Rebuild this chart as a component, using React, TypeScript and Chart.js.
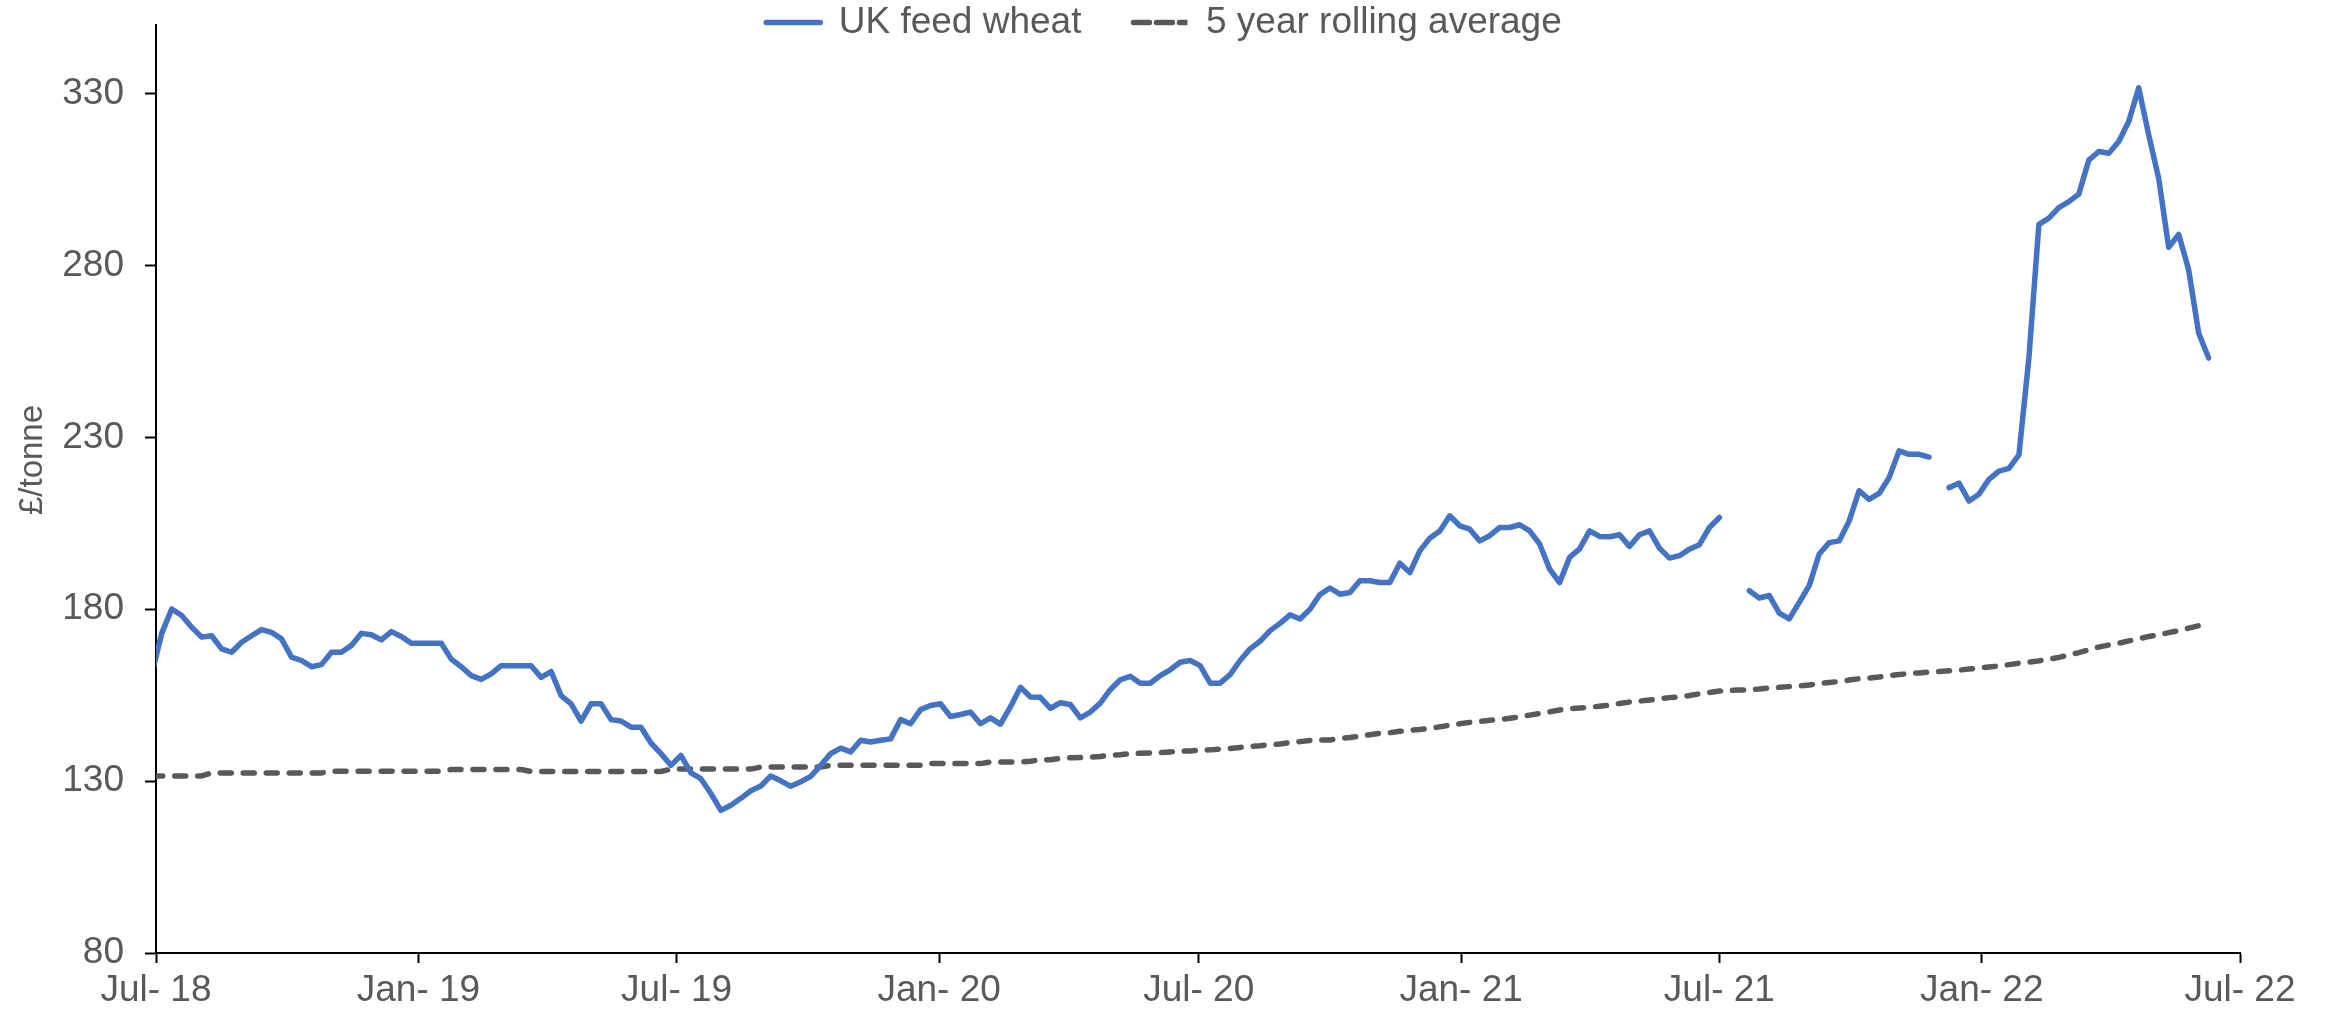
import React, { useEffect, useRef } from 'react';
import { Chart, registerables } from 'chart.js';

Chart.register(...registerables);

// ---- Data ----
const firstWeekDate = '2018-06-28';
const axisStartDate = '2018-07-01';
const axisEndDate = '2022-07-01';

const tickDates = [
  '2018-07-01', '2019-01-01', '2019-07-01', '2020-01-01', '2020-07-01',
  '2021-01-01', '2021-07-01', '2022-01-01', '2022-07-01',
];
const tickLabels = ['Jul- 18', 'Jan- 19', 'Jul- 19', 'Jan- 20', 'Jul- 20', 'Jan- 21', 'Jul- 21', 'Jan- 22', 'Jul- 22'];
const yTickValues = [80, 130, 180, 230, 280, 330];

const wheatLabel = 'UK feed wheat';
const avgLabel = '5 year rolling average';
const yTitle = '£/tonne';

// UK feed wheat, weekly (£/tonne)
const wheat: (number | null)[] = [
  161, 173, 180.1, 178.2, 174.8, 171.9, 172.3, 168.5, 167.5, 170.4,
  172.3, 174.1, 173.3, 171.4, 166.1, 165.1, 163.3, 163.9, 167.5, 167.5,
  169.5, 173.0, 172.6, 171.1, 173.5, 172.1, 170.1, 170.1, 170.1, 170.1,
  165.5, 163.3, 160.7, 159.6, 161.2, 163.6, 163.6, 163.6, 163.6, 160.2,
  161.9, 154.9, 152.5, 147.5, 152.5, 152.5, 147.9, 147.5, 145.7, 145.7,
  141.1, 138.0, 134.6, 137.5, 132.4, 130.7, 126.4, 121.5, 123.0, 125.0,
  127.2, 128.6, 131.5, 130.1, 128.5, 129.8, 131.4, 134.6, 138.0, 139.6,
  138.5, 141.9, 141.4, 141.9, 142.3, 147.9, 146.7, 150.8, 152.0, 152.5,
  148.8, 149.4, 150.1, 146.7, 148.4, 146.6, 151.6, 157.3, 154.5, 154.4,
  151.2, 152.8, 152.3, 148.4, 150.1, 152.7, 156.6, 159.5, 160.5, 158.5,
  158.5, 160.7, 162.4, 164.6, 165.1, 163.6, 158.5, 158.5, 161.0, 165.1,
  168.5, 170.7, 173.8, 175.9, 178.4, 177.2, 180.0, 184.3, 186.2, 184.4,
  184.9, 188.3, 188.3, 187.8, 187.8, 193.4, 190.7, 197.0, 200.7, 202.8,
  207.2, 204.3, 203.3, 199.9, 201.4, 203.8, 203.8, 204.6, 202.8, 199.0,
  191.7, 187.8, 195.1, 197.6, 202.8, 201.2, 201.1, 201.7, 198.3, 201.7,
  202.8, 197.8, 194.9, 195.6, 197.5, 198.8, 203.8, 206.7, null, null,
  185.4, 183.3, 184.0, 178.9, 177.2, 182.0, 186.9, 196.1, 199.4, 199.9,
  205.7, 214.5, 212.0, 213.7, 218.3, 226.1, 225.1, 225.1, 224.3, null,
  215.4, 216.7, 211.5, 213.5, 217.8, 220.2, 221.0, 224.9, 253.1, 292.0,
  293.8, 296.9, 298.6, 300.8, 310.7, 313.2, 312.7, 316.1, 321.9, 331.7,
  318.0, 305.4, 285.3, 289.1, 278.8, 260.4, 253.1,
];

// 5 year rolling average, weekly (£/tonne)
const rollingAverage: number[] = [
  131.5, 131.5, 131.5, 131.5, 131.5, 131.5, 132.4, 132.4, 132.4, 132.4,
  132.4, 132.4, 132.4, 132.4, 132.4, 132.4, 132.4, 132.4, 132.9, 132.9,
  132.9, 132.9, 132.9, 132.9, 132.9, 132.9, 132.9, 132.9, 132.9, 132.9,
  133.4, 133.4, 133.4, 133.4, 133.4, 133.4, 133.4, 133.4, 132.8, 132.8,
  132.8, 132.8, 132.8, 132.8, 132.8, 132.8, 132.8, 132.8, 132.8, 132.8,
  132.8, 132.8, 133.5, 133.5, 133.5, 133.5, 133.5, 133.5, 133.5, 133.5,
  133.5, 134.1, 134.1, 134.1, 134.1, 134.1, 134.1, 134.1, 134.6, 134.6,
  134.6, 134.6, 134.6, 134.6, 134.6, 134.6, 134.6, 134.6, 135.1, 135.1,
  135.1, 135.1, 135.1, 135.1, 135.6, 135.6, 135.6, 135.6, 135.8, 136.2,
  136.2, 136.6, 136.8, 136.9, 137.0, 137.2, 137.5, 137.7, 138.0, 138.1,
  138.2, 138.3, 138.5, 138.7, 138.8, 139.0, 139.1, 139.3, 139.5, 139.8,
  140.1, 140.3, 140.6, 140.8, 141.2, 141.5, 141.8, 142.0, 142.0, 142.4,
  142.7, 143.1, 143.5, 143.9, 144.1, 144.5, 144.8, 145.0, 145.4, 145.8,
  146.3, 146.7, 147.1, 147.4, 147.7, 147.9, 148.3, 148.7, 149.2, 149.7,
  150.2, 150.7, 151.1, 151.3, 151.5, 151.8, 152.1, 152.6, 153.0, 153.3,
  153.6, 154.0, 154.3, 154.5, 154.9, 155.4, 155.8, 156.2, 156.4, 156.5,
  156.6, 156.8, 157.1, 157.3, 157.5, 157.7, 158.0, 158.4, 158.7, 159.0,
  159.4, 159.8, 160.0, 160.3, 160.7, 161.0, 161.3, 161.5, 161.7, 161.9,
  162.1, 162.3, 162.6, 162.9, 163.2, 163.5, 163.9, 164.3, 164.6, 165.0,
  165.5, 166.0, 166.7, 167.4, 168.2, 169.0, 169.6, 170.1, 170.8, 171.4,
  172.1, 172.6, 173.2, 173.8, 174.5, 175.2, 175.6,
];

// ---- Helpers ----
const DAY_MS = 86400000;
const dayOffset = (d: string) => (Date.parse(d) - Date.parse(axisStartDate)) / DAY_MS;
const weekDays = wheat.map((_, i) => dayOffset(firstWeekDate) + 7 * i);
const tickDays = tickDates.map(dayOffset);

const FONT = '"Liberation Sans", Arial, Helvetica, sans-serif';
const TEXT = '#595959';

const yTitlePlugin = {
  id: 'yTitle',
  afterDraw(chart: any) {
    const ctx = chart.ctx;
    ctx.save();
    ctx.translate(33, 460);
    ctx.rotate(-Math.PI / 2);
    ctx.font = `33px ${FONT}`;
    ctx.fillStyle = TEXT;
    ctx.textAlign = 'center';
    ctx.textBaseline = 'middle';
    ctx.fillText(yTitle, 0, 0);
    ctx.restore();
  },
};

// The legend overlaps the top of the plot area (as in the original), so widen its clip box.
const legendClipPlugin = {
  id: 'legendClip',
  afterLayout(chart: any) {
    const lg = chart.legend;
    if (lg) {
      lg.height = 130;
      lg.bottom = lg.top + 130;
    }
  },
};

export default function App() {
  const ref = useRef<HTMLCanvasElement | null>(null);

  useEffect(() => {
    if (!ref.current) return;
    Chart.defaults.font.family = FONT;
    const chart = new Chart(ref.current, {
      type: 'line',
      data: {
        labels: weekDays,
        datasets: [
          {
            label: wheatLabel,
            data: wheat,
            borderColor: '#4472C4',
            backgroundColor: '#4472C4',
            borderWidth: 5.5,
            pointRadius: 0,
            pointHoverRadius: 0,
            spanGaps: false,
            tension: 0,
            borderJoinStyle: 'round',
            borderCapStyle: 'round',
            clip: 0,
          },
          {
            label: avgLabel,
            data: rollingAverage,
            borderColor: '#595959',
            backgroundColor: '#595959',
            borderWidth: 5.5,
            borderDash: [11, 12],
            borderCapStyle: 'round',
            pointRadius: 0,
            pointHoverRadius: 0,
            tension: 0,
            clip: 0,
          },
        ],
      } as any,
      options: {
        animation: false,
        responsive: true,
        maintainAspectRatio: false,
        events: [],
        layout: { padding: { top: -48, left: 0, right: 0, bottom: 0 } },
        plugins: {
          legend: {
            display: true,
            position: 'top',
            align: 'center',
            maxHeight: 73,
            labels: {
              usePointStyle: false,
              boxWidth: 54,
              boxHeight: 0,
              padding: 52,
              color: TEXT,
              font: { size: 37, family: FONT },
            },
          },
          tooltip: { enabled: false },
        },
        scales: {
          x: {
            type: 'linear',
            min: 0,
            max: dayOffset(axisEndDate),
            afterBuildTicks: (s: any) => {
              s.ticks = tickDays.map((v) => ({ value: v }));
            },
            afterFit: (s: any) => {
              s.height = 60;
              s.paddingRight = 88;
            },
            grid: {
              display: true,
              drawOnChartArea: false,
              drawTicks: true,
              tickLength: 10,
              tickWidth: 2,
              tickColor: '#000',
            },
            border: { display: true, color: '#000', width: 2 },
            ticks: {
              autoSkip: false,
              maxRotation: 0,
              minRotation: 0,
              padding: 6,
              color: TEXT,
              font: { size: 37, family: FONT },
              callback: (_v: any, i: number) => tickLabels[i],
            },
          },
          y: {
            type: 'linear',
            min: 80,
            max: 350,
            afterBuildTicks: (s: any) => {
              s.ticks = yTickValues.map((v) => ({ value: v }));
            },
            afterFit: (s: any) => {
              s.width = 156;
              s.paddingTop = 0;
              s.paddingBottom = 0;
            },
            grid: {
              display: true,
              drawOnChartArea: false,
              drawTicks: true,
              tickLength: 11,
              tickWidth: 2,
              tickColor: '#000',
            },
            border: { display: true, color: '#000', width: 2 },
            ticks: {
              padding: 21,
              color: TEXT,
              font: { size: 37, family: FONT },
              callback: (v: any) => String(v),
            },
          },
        },
      } as any,
      plugins: [yTitlePlugin, legendClipPlugin],
    });
    return () => chart.destroy();
  }, []);

  return (
    <div style={{ position: 'absolute', left: 0, top: 0, width: 2328, height: 1013, background: '#fff' }}>
      <canvas ref={ref} style={{ display: 'block' }} />
    </div>
  );
}
